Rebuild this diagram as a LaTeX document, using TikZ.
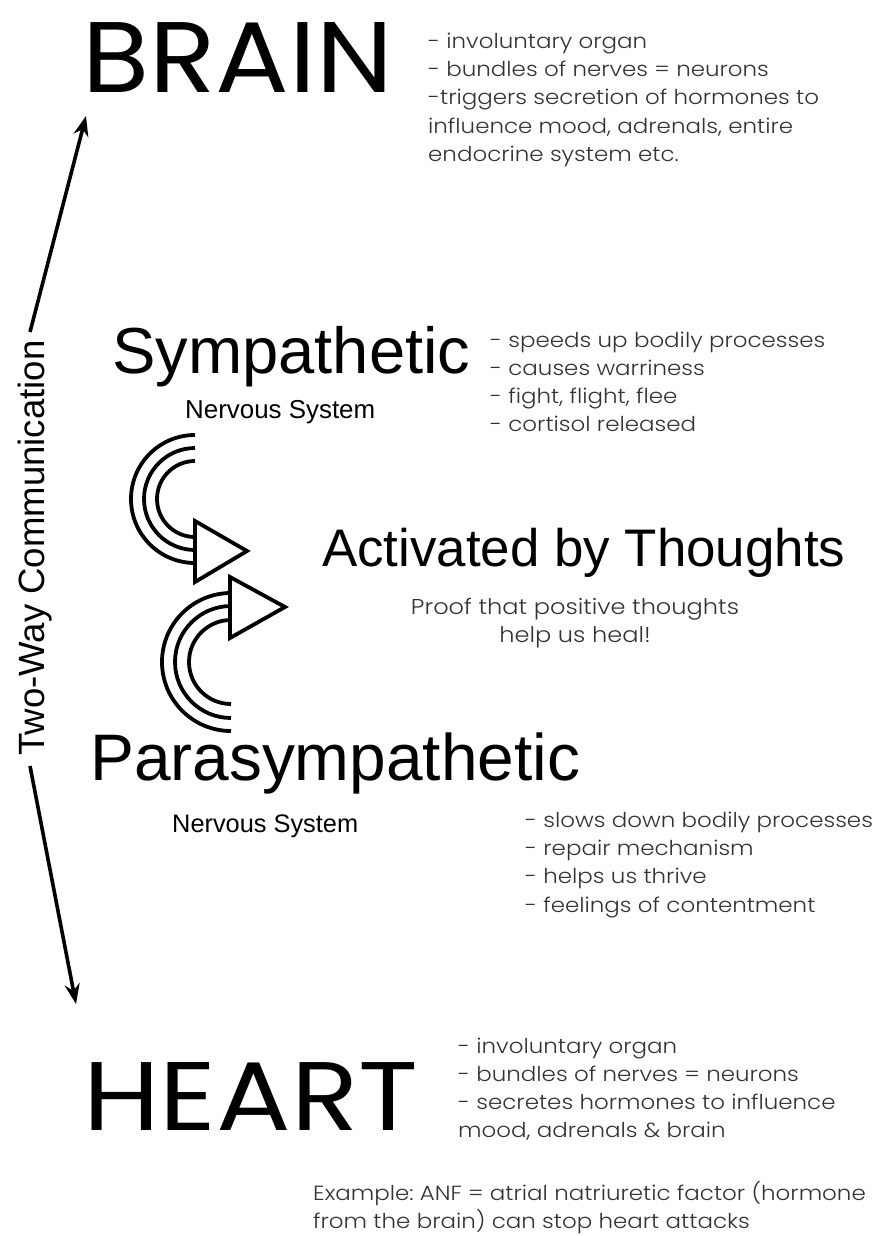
\documentclass[tikz,border=0pt]{standalone}
\usepackage{fontspec}
\usetikzlibrary{arrows.meta}
\setmainfont{Poppins}
\newfontfamily\headfont{Poppins}
\newfontfamily\subfont{Liberation Sans}
\newfontfamily\bodyfont{Poppins}[UprightFont=* Light, FakeStretch=1.12]
\definecolor{bodygray}{HTML}{333333}
\frenchspacing
\tikzset{
  txt/.style={inner sep=0pt, anchor=base west},
  head/.style={txt, font=\headfont, text=black},
  sub/.style={txt, font=\subfont, text=black},
  body/.style={txt, font=\bodyfont\fontsize{20.5}{24}\selectfont\frenchspacing, text=bodygray},
  bodyc/.style={body, anchor=base, font=\bodyfont\fontsize{21.5}{24}\selectfont\frenchspacing},
  twoway/.style={line width=3.6pt, -{Stealth[length=20pt,width=15pt]}},
  sym/.style={line width=3.8pt, line join=miter},
}
\begin{document}
\begin{tikzpicture}[x=1pt,y=-1pt]
\useasboundingbox (0,0) rectangle (886,1236);
\fill[white] (0,0) rectangle (886,1236);

% BRAIN
\node[head] (brain) at (82,93) {\resizebox{311pt}{70pt}{BRAIN}};
\node[body] (b1) at (428,49) {- involuntary organ};
\node[body] (b2) at (428,77) {- bundles of nerves = neurons};
\node[body] (b3) at (428,105) {-triggers secretion of hormones to};
\node[body] (b4) at (428,133) {influence mood, adrenals, entire};
\node[body] (b5) at (428,161) {endocrine system etc.};

% Sympathetic
\node[sub] (symp) at (112,373) {\resizebox{358pt}{!}{Sympathetic}};
\node[sub] (symns) at (185,418) {\resizebox{190pt}{!}{Nervous System}};
\node[body] (s1) at (490,347) {- speeds up bodily processes};
\node[body] (s2) at (490,375) {- causes warriness};
\node[body] (s3) at (490,403) {- fight, flight, flee};
\node[body] (s4) at (490,431) {- cortisol released};

% Activated
\node[sub] (act) at (322,566) {\resizebox{523pt}{!}{Activated by Thoughts}};
\node[bodyc] (p1) at (575,614) {Proof that positive thoughts};
\node[bodyc] (p2) at (575,642) {help us heal!};

% Parasympathetic
\node[sub] (para) at (90,780) {\resizebox{490pt}{!}{Parasympathetic}};
\node[sub] (parans) at (172,832) {\resizebox{186pt}{!}{Nervous System}};
\node[body] (q1) at (525,827) {- slows down bodily processes};
\node[body] (q2) at (525,855) {- repair mechanism};
\node[body] (q3) at (525,883) {- helps us thrive};
\node[body] (q4) at (525,912) {- feelings of contentment};

% HEART
\node[head] (heart) at (83,1130) {\resizebox{335pt}{68pt}{HEART}};
\node[body] (h1) at (458,1053) {- involuntary organ};
\node[body] (h2) at (458,1081) {- bundles of nerves = neurons};
\node[body] (h3) at (458,1109) {- secretes hormones to influence};
\node[body] (h4) at (458,1137) {mood, adrenals \& brain};
\node[body] (e1) at (313,1200) {Example: ANF = atrial natriuretic factor (hormone};
\node[body] (e2) at (313,1228) {from the brain) can stop heart attacks};

% Two-way communication
\node[inner sep=0pt, anchor=base, rotate=90, font=\subfont, text=black] (two) at (44,548)
  {\resizebox{415pt}{!}{Two-Way Communication}};
\coordinate (upS) at (30,332);
\coordinate (upE) at (86,116);
\coordinate (dnS) at (30,766);
\coordinate (dnE) at (76,1004);
\draw[twoway] (upS) -- (upE);
\draw[twoway] (dnS) -- (dnE);

% symbol 1 (top)
\draw[sym] (195,435) arc[start angle=270, end angle=90, radius=64];
\draw[sym] (195,448) arc[start angle=270, end angle=90, radius=51];
\draw[sym] (195,461) arc[start angle=270, end angle=90, radius=38];
\draw[sym, fill=white] (195,521) -- (195,582) -- (247,551) -- cycle;

% symbol 2 (bottom)
\draw[sym] (231,593) arc[start angle=270, end angle=90, radius=69];
\draw[sym] (231,606) arc[start angle=270, end angle=90, radius=56];
\draw[sym] (231,620) arc[start angle=270, end angle=90, radius=42];
\draw[sym, fill=white] (230,577) -- (230,638) -- (285,607) -- cycle;
\end{tikzpicture}
\end{document}
